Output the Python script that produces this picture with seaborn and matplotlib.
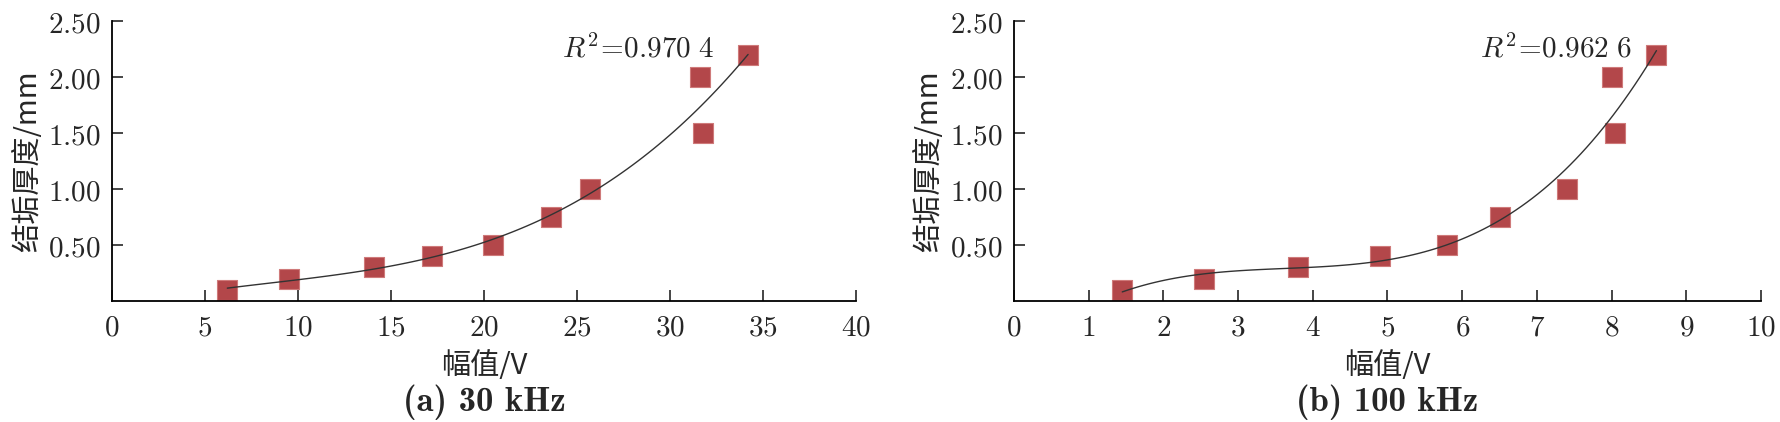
import os
import numpy as np
import pandas as pd
import matplotlib
matplotlib.use('Agg')
import matplotlib.pyplot as plt
import seaborn as sns
from matplotlib.ticker import FuncFormatter
from matplotlib.font_manager import FontProperties

sns.set_style('ticks')
plt.rcParams['mathtext.fontset'] = 'cm'
plt.rcParams['font.family'] = ['DejaVu Serif', 'Noto Sans CJK SC']

# data
amp_30k = [6.2, 9.5, 14.1, 17.2, 20.5, 23.6, 25.7, 31.6, 31.8, 34.2]
thick_30k = [0.10, 0.20, 0.30, 0.40, 0.50, 0.75, 1.00, 2.00, 1.50, 2.20]
amp_100k = [1.45, 2.55, 3.8, 4.9, 5.8, 6.5, 7.4, 8.0, 8.05, 8.6]
thick_100k = [0.10, 0.20, 0.30, 0.40, 0.50, 0.75, 1.00, 2.00, 1.50, 2.20]

xticks_30k = [0, 5, 10, 15, 20, 25, 30, 35, 40]
xticks_100k = [0, 1, 2, 3, 4, 5, 6, 7, 8, 9, 10]
yticks = [0.5, 1.0, 1.5, 2.0, 2.5]

r2_30k = r'$R^2\!=\!0.970\ 4$'
r2_100k = r'$R^2\!=\!0.962\ 6$'
cap_30k = '(a) 30 kHz'
cap_100k = '(b) 100 kHz'

# computer modern bold shipped with matplotlib, for the captions
cmb = os.path.join(matplotlib.get_data_path(), 'fonts', 'ttf', 'cmb10.ttf')
cap_font = FontProperties(fname=cmb, size=25)

fig = plt.figure(figsize=(17.81, 4.22), dpi=100)
ax1 = fig.add_axes([0.0629, 0.2867, 0.4177, 0.6633])
ax2 = fig.add_axes([0.5693, 0.2867, 0.4195, 0.6633])

panels = [
    (ax1, amp_30k, thick_30k, xticks_30k, 40, r2_30k, (24.2, 2.25), cap_30k),
    (ax2, amp_100k, thick_100k, xticks_100k, 10, r2_100k, (6.24, 2.25), cap_100k),
]

for ax, xs, ys, xt, xmax, r2, r2pos, cap in panels:
    df = pd.DataFrame({'amp': xs, 'thick': ys})
    sns.regplot(data=df, x='amp', y='thick', order=3, ci=None, scatter=False,
                truncate=True, ax=ax, line_kws={'color': '#333333', 'lw': 1.0})
    sns.scatterplot(data=df, x='amp', y='thick', marker='s', s=210,
                    color='#b3474a', edgecolor='#cf7a7a', linewidth=0.8,
                    ax=ax, zorder=1)
    ax.set_xlim(0, xmax)
    ax.set_ylim(0, 2.5)
    ax.set_xticks(xt)
    ax.set_yticks(yticks)
    ax.xaxis.set_major_formatter(FuncFormatter(lambda v, p: f'${v:g}$'))
    ax.yaxis.set_major_formatter(FuncFormatter(lambda v, p: f'${v:.2f}$'))
    ax.tick_params(direction='in', length=8, width=1.2, labelsize=21)
    ax.tick_params(axis='x', pad=9)
    ax.tick_params(axis='y', pad=8)
    for s in ['top', 'right']:
        ax.spines[s].set_visible(False)
    for s in ['left', 'bottom']:
        ax.spines[s].set_linewidth(1.3)
        ax.spines[s].set_color('black')
    ax.set_xlabel('幅值/V', fontsize=21, family=['Noto Sans CJK SC'], labelpad=7)
    ax.set_ylabel('结垢厚度/mm', fontsize=21, family=['Noto Sans CJK SC'], labelpad=4)
    ax.text(r2pos[0], r2pos[1], r2, fontsize=21, ha='left', va='center')
    ax.text(0.5, -0.36, cap, transform=ax.transAxes, fontproperties=cap_font,
            ha='center', va='center')

fig.savefig('out.png', dpi=100)
